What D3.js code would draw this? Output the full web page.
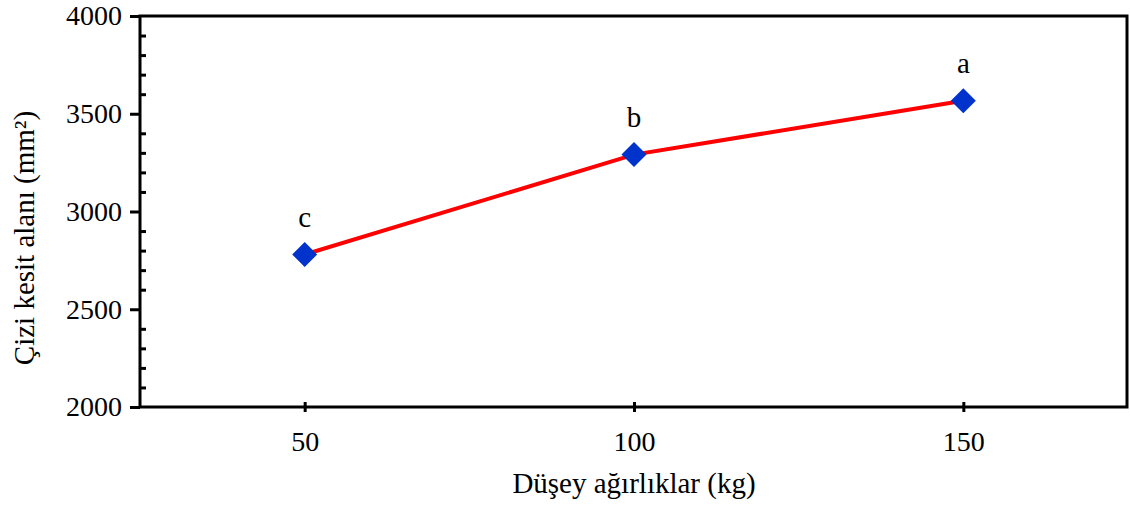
<!DOCTYPE html>
<html>
<head>
<meta charset="utf-8">
<script src="https://cdn.jsdelivr.net/npm/d3@7"></script>
<style>
  body { margin: 0; background: #fff; }
</style>
</head>
<body>
<div id="graph"></div>
<script>
// chart values
var loads = [50, 100, 150];
var areas = [2780, 3291, 3566];
var letters = ["c", "b", "a"];
var xTicks = [50, 100, 150];
var yTicks = [2000, 2500, 3000, 3500, 4000];

var w = 1130;
var h = 508;
var margin = { top: 16, right: 2, bottom: 101, left: 140 };
var serif = "'Liberation Serif'";

var svg = d3.select("#graph")
    .append("svg")
    .attr("width", w)
    .attr("height", h);

var xScale = d3.scaleLinear()
    .domain([25, 175])
    .range([margin.left, w - margin.right]);

var yScale = d3.scaleLinear()
    .domain([2000, 4000])
    .range([h - margin.bottom, margin.top]);

// minor ticks on y, inside the frame
var yMinor = d3.axisRight(yScale)
    .tickValues(d3.range(2100, 4000, 100).filter(function (d) { return d % 500 != 0; }))
    .tickSize(6)
    .tickFormat("");
svg.append("g")
    .attr("transform", "translate(" + margin.left + ",0)")
    .call(yMinor)
    .call(function (g) { g.select(".domain").remove(); })
    .selectAll("line").attr("stroke", "#000").attr("stroke-width", 3);

// major y ticks outside
var yAxis = d3.axisLeft(yScale)
    .tickValues(yTicks)
    .tickFormat(d3.format("d"))
    .tickSize(10)
    .tickPadding(8);
var gy = svg.append("g")
    .attr("transform", "translate(" + margin.left + ",0)")
    .call(yAxis);
gy.select(".domain").remove();
gy.selectAll("line").attr("stroke", "#000").attr("stroke-width", 3);
gy.selectAll("text")
    .attr("fill", "#000")
    .style("font-family", serif)
    .style("font-size", "28px");

// x axis with ticks crossing the frame
var xAxis = d3.axisBottom(xScale)
    .tickValues(xTicks)
    .tickSizeInner(5)
    .tickSizeOuter(0)
    .tickPadding(19);
var gx = svg.append("g")
    .attr("transform", "translate(0," + (h - margin.bottom) + ")")
    .call(xAxis);
gx.select(".domain").remove();
gx.selectAll("line")
    .attr("y1", -5)
    .attr("stroke", "#000")
    .attr("stroke-width", 3);
gx.selectAll("text")
    .attr("fill", "#000")
    .style("font-family", serif)
    .style("font-size", "28px");

// frame
svg.append("rect")
    .attr("x", margin.left)
    .attr("y", margin.top)
    .attr("width", w - margin.left - margin.right - 1)
    .attr("height", h - margin.top - margin.bottom)
    .attr("fill", "none")
    .attr("stroke", "#000")
    .attr("stroke-width", 3);

var data = loads.map(function (d, i) {
    return { load: d, area: areas[i], letter: letters[i] };
});

var line = d3.line()
    .x(function (d) { return xScale(d.load); })
    .y(function (d) { return yScale(d.area); });

svg.append("path")
    .datum(data)
    .attr("d", line)
    .attr("fill", "none")
    .attr("stroke", "#ff0000")
    .attr("stroke-width", 4);

svg.selectAll("path.marker")
    .data(data)
    .enter()
    .append("path")
    .attr("class", "marker")
    .attr("d", d3.symbol().type(d3.symbolDiamond2).size(398))
    .attr("transform", function (d) {
        return "translate(" + xScale(d.load) + "," + yScale(d.area) + ")";
    })
    .attr("fill", "#0033cc");

svg.selectAll("text.letter")
    .data(data)
    .enter()
    .append("text")
    .attr("class", "letter")
    .attr("x", function (d) { return xScale(d.load); })
    .attr("y", function (d) { return yScale(d.area) - 28; })
    .attr("text-anchor", "middle")
    .attr("fill", "#000")
    .style("font-family", serif)
    .style("font-size", "29px")
    .text(function (d) { return d.letter; });

// axis titles
svg.append("text")
    .attr("x", 634)
    .attr("y", 493)
    .attr("text-anchor", "middle")
    .attr("fill", "#000")
    .style("font-family", serif)
    .style("font-size", "29px")
    .text("Düşey ağırlıklar (kg)");

svg.append("text")
    .attr("transform", "rotate(-90)")
    .attr("x", -238)
    .attr("y", 34)
    .attr("text-anchor", "middle")
    .attr("fill", "#000")
    .style("font-family", serif)
    .style("font-size", "29px")
    .text("Çizi kesit alanı (mm²)");
</script>
</body>
</html>
